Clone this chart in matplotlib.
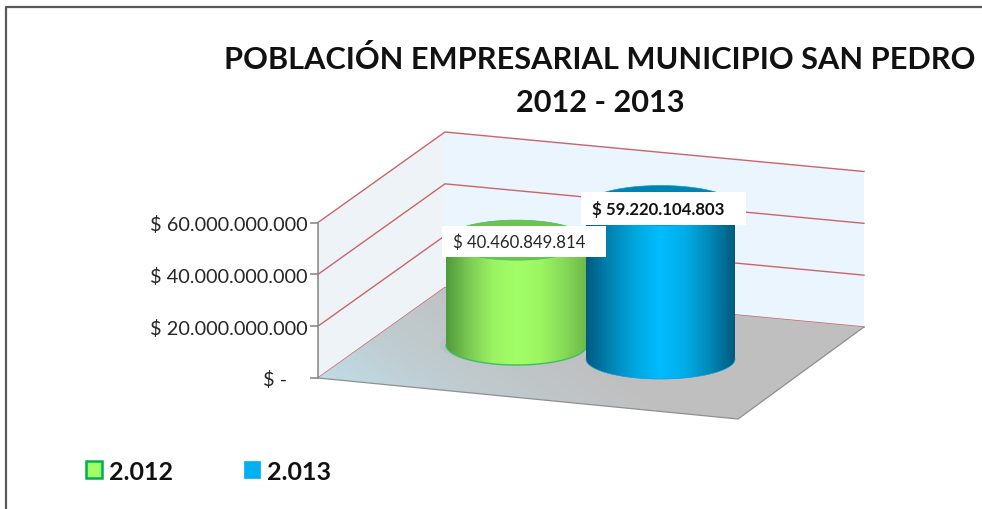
import numpy as np
import matplotlib
matplotlib.use("Agg")
import matplotlib.pyplot as plt
from matplotlib.colors import LinearSegmentedColormap
from matplotlib.patches import Polygon, PathPatch, Patch, Rectangle
from matplotlib.path import Path
from matplotlib.lines import Line2D
from matplotlib.ticker import FixedFormatter

categories = ["2.012", "2.013"]
values = [40460849814, 59220104803]
value_labels = ["$ 40.460.849.814", "$ 59.220.104.803"]
ticks = [0, 20000000000, 40000000000, 60000000000]
tick_labels = ["$ -    ", "$ 20.000.000.000", "$ 40.000.000.000", "$ 60.000.000.000"]
title = "POBLACIÓN EMPRESARIAL MUNICIPIO SAN PEDRO\n2012 - 2013"

plt.rcParams["font.family"] = ["Lato", "DejaVu Sans"]
W, H = 982, 510
fig = plt.figure(figsize=(W / 100, H / 100), dpi=100, facecolor="white")
ax = fig.add_axes([0, 0, 1, 1])

PER_PX = 60e9 / 155.5          # value units per pixel
def Y(p):                      # pixel row -> value-axis position
    return (379 - p) * PER_PX

ax.set_xlim(0, W)
ax.set_ylim(Y(H), Y(0))
ax.patch.set_visible(False)
for s in ("top", "right", "bottom"):
    ax.spines[s].set_visible(False)
ax.xaxis.set_visible(False)
ax.spines["left"].set_position(("data", 318))
ax.spines["left"].set_bounds(0, 60e9)
ax.spines["left"].set_color("#8c8c8c")
ax.spines["left"].set_linewidth(1.2)
ax.spines["left"].set_zorder(6)
ax.set_yticks(ticks)
ax.yaxis.set_major_formatter(FixedFormatter(tick_labels))
ax.tick_params(axis="y", length=5.8, width=1.2, color="#8c8c8c", pad=1.5,
               labelsize=14.3, labelcolor="#262626")

# 3-D box geometry (pixel layout)
FL, BL, BR, FR = (318, 379), (445, 288.5), (864, 328), (738, 420)
def P(pts):
    return [(x, Y(y)) for x, y in pts]

rise = [t / PER_PX for t in ticks]
top = rise[-1]
ax.add_patch(Polygon(P([FL, BL, (445, BL[1] - top), (318, FL[1] - top)]),
                     fc="#EEF3F8", ec="none", zorder=1))
ax.add_patch(Polygon(P([BL, BR, (864, BR[1] - top), (445, BL[1] - top)]),
                     fc="#EBF5FD", ec="none", zorder=1))
for r in rise:
    ax.plot(*zip(*P([(318, FL[1] - r), (445, BL[1] - r), (864, BR[1] - r)])),
            color="#CC6468", lw=1.0, zorder=2, solid_joinstyle="miter")

# Floor with diagonal gradient
floor = Polygon(P([FL, BL, BR, FR]), fc="none", ec="none", zorder=3)
ax.add_patch(floor)
gx, gy = np.meshgrid(np.linspace(0, 1, 300), np.linspace(0, 1, 150))
g = np.clip((gx * 1.0 + (1 - gy) * 0.35) / 1.0, 0, 1)
fcmap = LinearSegmentedColormap.from_list("f", ["#BFE4F2", "#C0CCD0", "#BFBFBF", "#BFBFBF"])
im = ax.imshow(g, extent=(318, 864, Y(420), Y(288)), origin="upper", cmap=fcmap,
               aspect="auto", zorder=3, vmin=0, vmax=1)
im.set_clip_path(floor)
ax.plot(*zip(*P([FL, FR, BR])), color="#8f8f8f", lw=0.9, zorder=3.1)

def cylinder(xc, rx, ry, base_px, value, stops, top_col, edge, lw, z):
    t = np.linspace(0, np.pi, 80)
    base = Y(base_px)
    top_v = base + value
    ry_v = ry * PER_PX
    xs = xc + rx * np.cos(t)
    lower = np.column_stack([xs[::-1], base - ry_v * np.sin(t)])
    body = np.vstack([lower, [[xc + rx, top_v]], [[xc - rx, top_v]], lower[:1]])
    body_patch = PathPatch(Path(body), fc="none", ec="none", zorder=z)
    ax.add_patch(body_patch)
    cm = LinearSegmentedColormap.from_list("c", stops)
    img = ax.imshow(np.linspace(0, 1, 256)[None, :], extent=(xc - rx, xc + rx, base - ry_v, top_v),
                    cmap=cm, aspect="auto", zorder=z)
    img.set_clip_path(body_patch)
    ax.plot(lower[:, 0], lower[:, 1], color=edge, lw=lw, zorder=z + 0.1)
    tt = np.linspace(0, 2 * np.pi, 120)
    ax.fill(xc + rx * np.cos(tt), top_v + ry_v * np.sin(tt), fc=top_col, ec=edge, lw=0.5, zorder=z + 0.1)
    return top_v

green_stops = ["#4F9A3C", "#7CCB55", "#9BF262", "#A2FF68", "#9CF561", "#86DB58", "#6DB84A"]
blue_stops = ["#005A80", "#0085B5", "#00A8E0", "#00BCFF", "#00ADE8", "#0088B8", "#005A7E"]

sh = np.linspace(0, 2 * np.pi, 80)
ax.fill(513 + 73 * np.cos(sh), Y(346) + 20 * PER_PX * np.sin(sh),
        fc="#9aa5a8", alpha=0.15, ec="none", zorder=3.5)

cylinder(516.5, 70.5, 20, 346, values[0], green_stops, "#6FC24E", "#3CC060", 1.0, 4)
cylinder(660.5, 74.5, 20, 360, values[1], blue_stops, "#0083B3", "#00A0D8", 0.5, 5)

# Data labels on white boxes
ax.add_patch(Rectangle((442, Y(258)), 164, 31 * PER_PX, fc="white", ec="none", zorder=7))
ax.text(519, Y(243), value_labels[0], ha="center", va="center", fontsize=12.1,
        color="#262626", zorder=7.1)
ax.add_patch(Rectangle((581, Y(226)), 165, 33 * PER_PX, fc="white", ec="none", zorder=8))
ax.text(658.5, Y(210), value_labels[1], ha="center", va="center", fontsize=12.1,
        color="#111111", fontweight="bold", zorder=8.1)

fig.text(600 / W, 1 - 81 / H, title, ha="center", va="center", fontsize=22.15,
         fontweight="bold", color="#111111", linespacing=1.62)

handles = [Patch(fc="#9EFF66", ec="#00B050", lw=1.8, label=categories[0]),
           Patch(fc="#00B0F0", ec="#00B0F0", lw=0.5, label=categories[1])]
leg = ax.legend(handles=handles, ncol=2, frameon=False, loc="center left",
                bbox_to_anchor=(86 / W, 1 - 472 / H), prop=dict(size=18.0, weight="bold"),
                handlelength=0.64, handleheight=0.64, handletextpad=0.28,
                columnspacing=2.85, labelcolor="#111111", borderpad=0, borderaxespad=0)
leg.set_zorder(9)

# Outer frame (top and left only)
fig.add_artist(Line2D([6 / W, 6 / W, 1], [0, 1 - 8 / H, 1 - 8 / H], color="#595959", lw=1.6))

fig.savefig("out.png", dpi=100)
